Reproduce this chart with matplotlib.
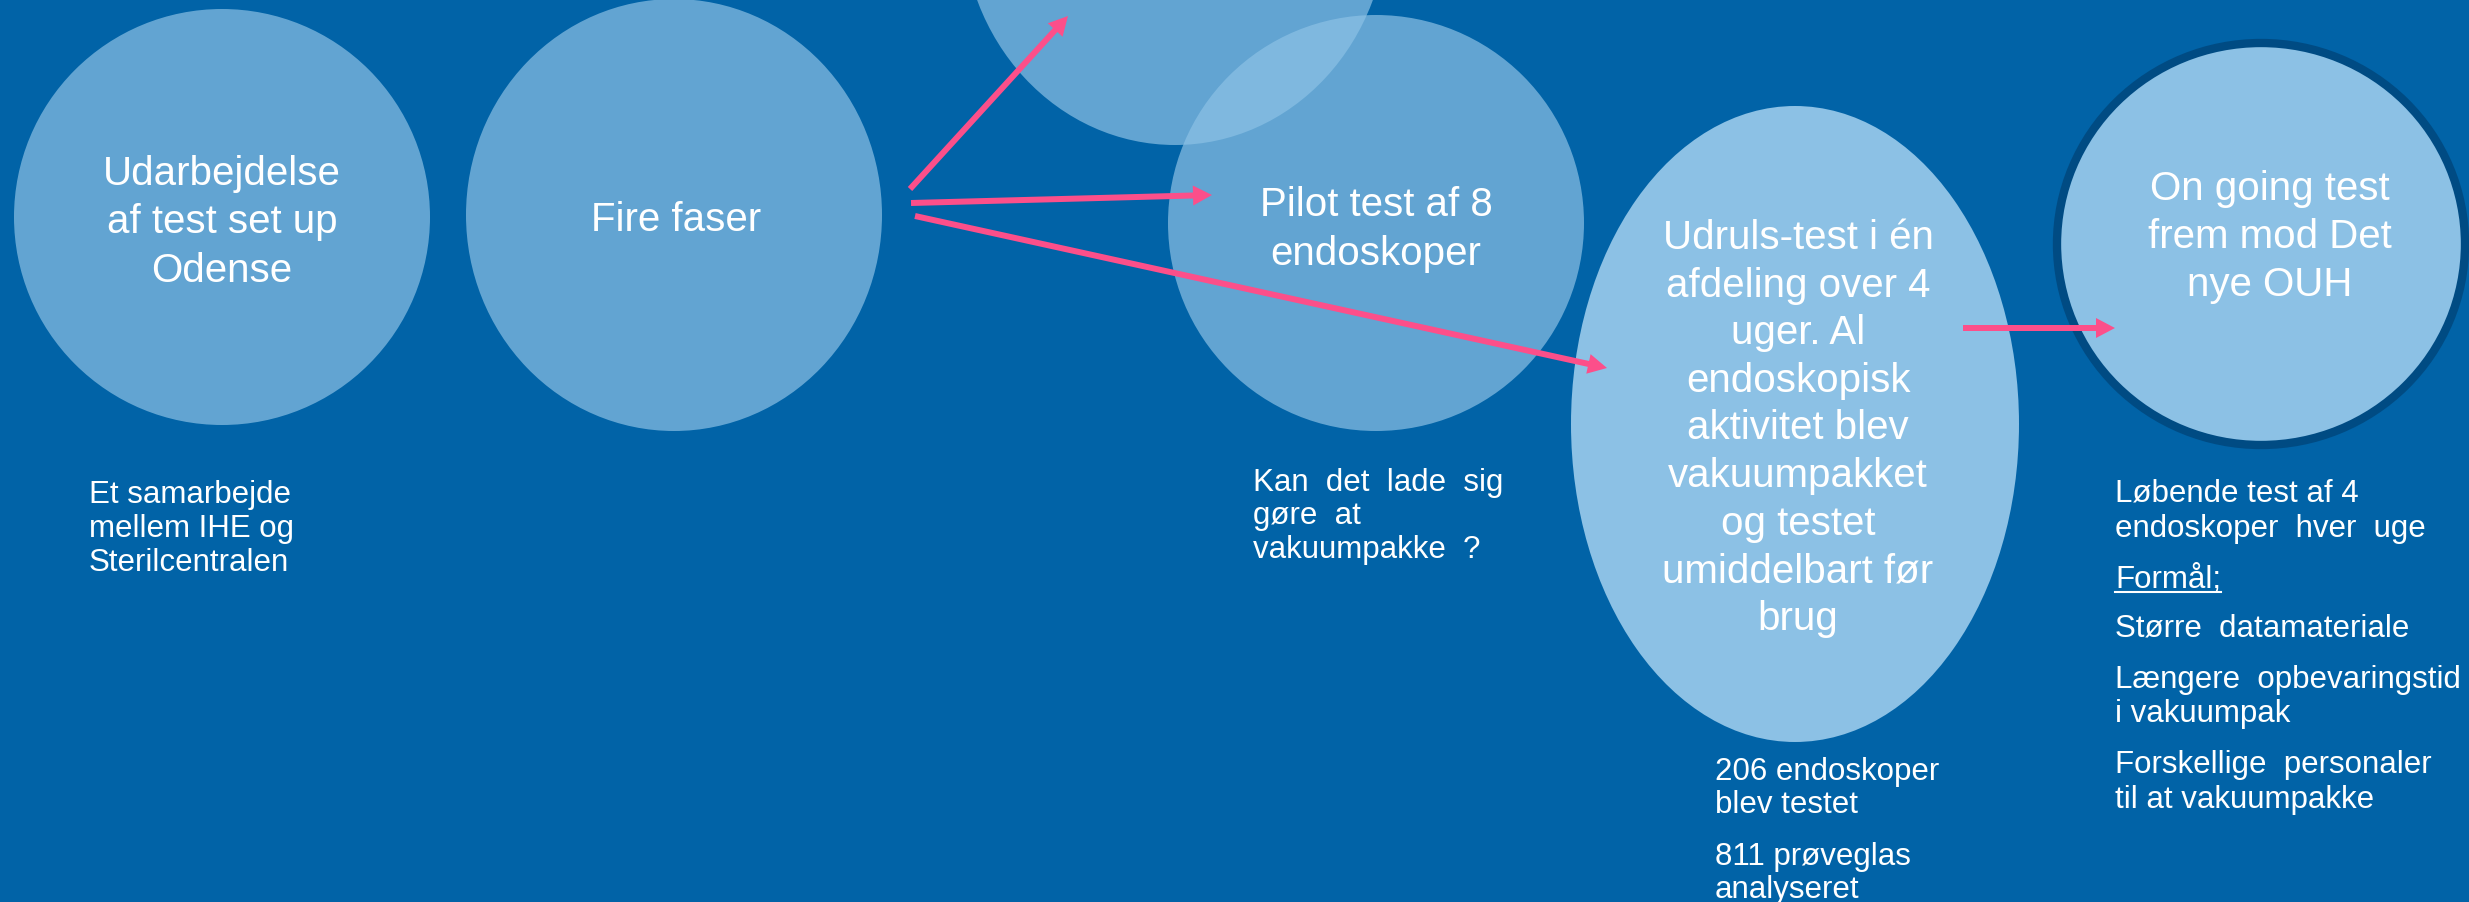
import matplotlib
matplotlib.use("Agg")
import matplotlib.pyplot as plt
from matplotlib.patches import Ellipse

W, H = 2469, 903
BG = '#0163a7'
FILL = '#8cc1e5'
PINK = '#fc4f8a'
plt.rcParams['font.family'] = ['Liberation Sans', 'DejaVu Sans']

# circle labels
lbl_setup = ['Udarbejdelse', 'af test set up', 'Odense']
lbl_faser = ['Fire faser']
lbl_pilot = ['Pilot test af 8', 'endoskoper']
lbl_udruls = ['Udruls-test i én', 'afdeling over 4', 'uger. Al', 'endoskopisk',
              'aktivitet blev', 'vakuumpakket', 'og testet', 'umiddelbart før', 'brug']
lbl_ongoing = ['On going test', 'frem mod Det', 'nye OUH']

# notes under the circles
note_setup = ['Et samarbejde', 'mellem IHE og', 'Sterilcentralen']
note_pilot = ['Kan  det  lade  sig', 'gøre  at', 'vakuumpakke  ?']
note_udruls = ['206 endoskoper', 'blev testet', '811 prøveglas', 'analyseret']
note_ongoing = ['Løbende test af 4', 'endoskoper  hver  uge', 'Formål;',
                'Større  datamateriale', 'Længere  opbevaringstid', 'i vakuumpak',
                'Forskellige  personaler', 'til at vakuumpakke']

fig = plt.figure(figsize=(W / 100, H / 100), dpi=100)
fig.patch.set_facecolor(BG)
ax = fig.add_axes([0, 0, 1, 1])
ax.set_xlim(0, W)
ax.set_ylim(H, 0)
ax.axis('off')

# translucent circles
for (cx, cy, w, h) in [(222, 218, 416, 416), (674, 216, 416, 432),
                       (1175, -84, 426, 460), (1376, 224, 416, 416)]:
    ax.add_patch(Ellipse((cx, cy), w, h, facecolor=FILL, alpha=0.7, lw=0))

ax.add_patch(Ellipse((1795, 425), 448, 636, facecolor=FILL, lw=0))
ax.add_patch(Ellipse((2261, 245), 408, 402, facecolor=FILL,
                     edgecolor='#004b83', lw=6))


def lines(txt, x, y0, dy, size, ha='center'):
    out = []
    for i, s in enumerate(txt):
        out.append(ax.text(x, y0 + i * dy, s, color='white', fontsize=size,
                           ha=ha, va='baseline'))
    return out


lines(lbl_setup, 222, 185, 48.5, 29)
lines(lbl_faser, 676, 231, 48, 29)
lines(lbl_pilot, 1376, 216, 49, 29)
lines(lbl_udruls, 1798, 249, 47.6, 29)
lines(lbl_ongoing, 2270, 200, 48, 29)

lines(note_setup, 89, 503, 34, 22.5, ha='left')
lines(note_pilot, 1253, 491, 33.5, 22.5, ha='left')
lines(note_udruls[:2], 1715, 780, 33, 22.5, ha='left')
lines(note_udruls[2:], 1715, 865, 33, 22.5, ha='left')
lines(note_ongoing[:2], 2115, 502, 35, 22.5, ha='left')
f = lines(note_ongoing[2:3], 2115, 588, 35, 22.5, ha='left')[0]
lines(note_ongoing[3:4], 2115, 637, 35, 22.5, ha='left')
lines(note_ongoing[4:6], 2115, 688, 34, 22.5, ha='left')
lines(note_ongoing[6:], 2115, 773, 35, 22.5, ha='left')

# underline "Formål;"
fig.canvas.draw()
bb = f.get_window_extent().transformed(ax.transData.inverted())
ax.plot([bb.x0, bb.x1], [593, 593], color='white', lw=1.5)

# arrows
for (x0, y0, x1, y1) in [(910, 190, 1068, 17), (911, 204, 1212, 196),
                         (915, 217, 1607, 369), (1963, 329, 2115, 329)]:
    ax.arrow(x0, y0, x1 - x0, y1 - y0, width=6, head_width=20, head_length=19,
             length_includes_head=True, color=PINK, lw=0)

fig.savefig('out.png', dpi=100, facecolor=BG)
